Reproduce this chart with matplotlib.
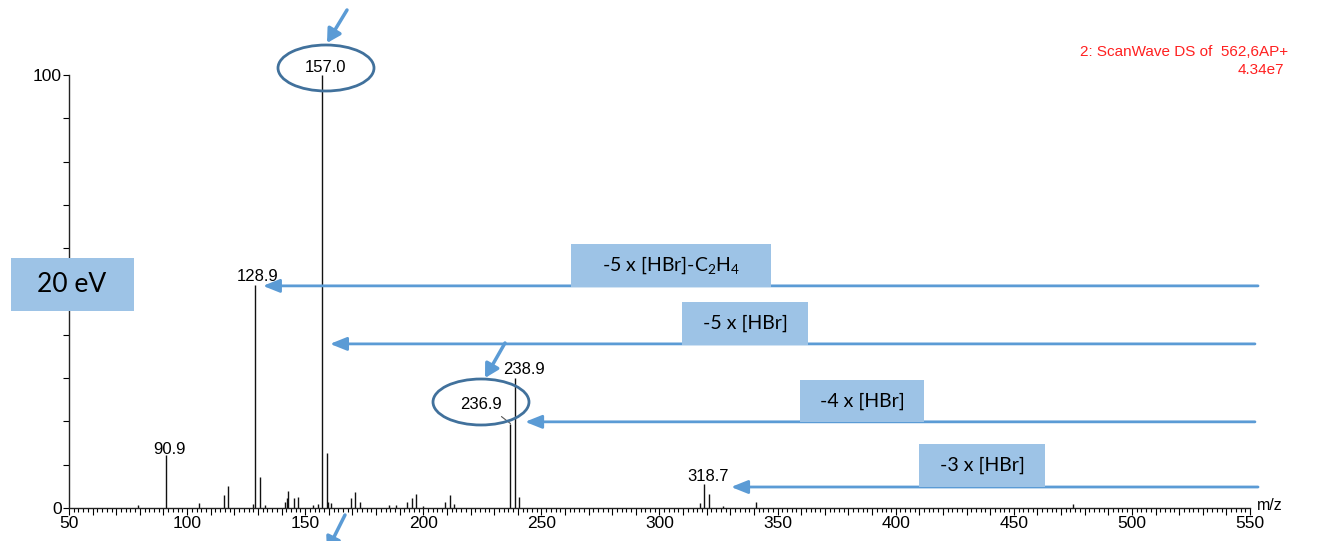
import numpy as np
import matplotlib.pyplot as plt
from matplotlib.patches import Ellipse, Rectangle
from matplotlib.ticker import MultipleLocator, FuncFormatter

plt.rcParams['font.family'] = ['Liberation Sans', 'DejaVu Sans']
plt.rcParams['mathtext.fontset'] = 'custom'
plt.rcParams['mathtext.rm'] = 'Lato'
plt.rcParams['mathtext.it'] = 'Lato'

# spectrum (m/z, relative intensity %)
mz = [79.4, 90.9, 105.1, 115.5, 117.4, 127.7, 128.9, 130.9, 133.0, 141.5,
      142.2, 142.9, 145.3, 146.9, 153.3, 155.4, 157.0, 159.1, 159.6, 161.0,
      169.4, 170.9, 173.0, 185.6, 188.4, 193.1, 195.2, 197.0, 200.0, 209.3,
      211.1, 213.0, 236.9, 238.9, 240.7, 317.0, 318.7, 320.8, 327.0, 341.0,
      475.0]
intensity = [0.8, 12.2, 1.2, 3.0, 5.0, 1.0, 51.5, 7.2, 0.8, 1.5,
             2.3, 4.0, 2.3, 2.5, 0.7, 1.0, 100.0, 12.7, 1.5, 1.2,
             2.3, 3.8, 1.5, 0.7, 0.7, 1.5, 2.3, 3.3, 0.5, 1.5,
             3.0, 1.0, 19.5, 30.0, 2.5, 1.2, 5.5, 3.2, 0.5, 1.3,
             0.9]

labelled = [90.9, 128.9, 157.0, 236.9, 238.9, 318.7]

# losses: text, arrow tip m/z, level (%)
loss_text = ['-5 x [HBr]-C$_2$H$_4$', '-5 x [HBr]', '-4 x [HBr]', '-3 x [HBr]']
loss_tip = [132.1, 160.5, 243.1, 330.3]
loss_level = [51.3, 37.9, 19.9, 4.85]

W, H = 1322, 541
fig = plt.figure(figsize=(W / 100, H / 100), dpi=100)
ax = fig.add_axes([69 / W, 1 - 508 / H, (1250 - 69) / W, (508 - 75) / H])


def fx(px):
    return px / W


def fy(py):
    return 1 - py / H


blue = '#5B9BD5'
boxc = '#9DC3E6'
ring = '#41719C'

ax.vlines(mz, 0, intensity, color='#111111', lw=1)
ax.set_xlim(50, 550)
ax.set_ylim(0, 100)
for s in ['top', 'right']:
    ax.spines[s].set_visible(False)
for s in ['left', 'bottom']:
    ax.spines[s].set_linewidth(1)
    ax.spines[s].set_color('#222222')

ax.xaxis.set_major_locator(MultipleLocator(10))
ax.xaxis.set_minor_locator(MultipleLocator(2))
ax.xaxis.set_major_formatter(FuncFormatter(lambda v, p: f'{v:.0f}' if v % 50 == 0 else ''))
ax.yaxis.set_major_locator(MultipleLocator(10))
ax.yaxis.set_major_formatter(FuncFormatter(lambda v, p: f'{v:.0f}' if v in (0, 100) else ''))
ax.tick_params(axis='x', which='major', length=5, width=0.8, pad=1, labelsize=12.5)
ax.tick_params(axis='x', which='minor', length=3, width=0.8)
ax.tick_params(axis='y', which='major', length=4, width=0.8, pad=1, labelsize=12.5)
fig.text(fx(1257), fy(505), 'm/z', fontsize=11.5, ha='left', va='center')

# peak labels
offsets = {90.9: (4, 6), 128.9: (2, 9), 157.0: (4, 7), 236.9: (-29, 19), 238.9: (9, 9), 318.7: (4, 8)}
for m, v in zip(mz, intensity):
    if m in labelled:
        dx, dy = offsets[m]
        ax.annotate(f'{m:.1f}', (m, v), xytext=(dx, dy), textcoords='offset pixels',
                    ha='center', va='center', fontsize=12)
# leader line for 236.9
ax.annotate('', (236.9, 19.5), xytext=(-9, 7), textcoords='offset pixels',
            arrowprops=dict(arrowstyle='-', color='#555555', lw=0.8, shrinkA=0, shrinkB=0))

# ellipses
fig.patches.append(Ellipse((fx(326), fy(68)), 96 / W, 46 / H, transform=fig.transFigure,
                           fill=False, ec=ring, lw=2))
fig.patches.append(Ellipse((fx(481), fy(402)), 96 / W, 46 / H, transform=fig.transFigure,
                           fill=False, ec=ring, lw=2))

# pointer arrows
arrow_kw = dict(arrowstyle='-|>,head_length=0.8,head_width=0.45', color=blue, lw=2.5, shrinkA=0, shrinkB=0)
for (x0, y0), (x1, y1) in [((347, 10), (327, 43)), ((505, 343), (485, 378)), ((345, 515), (327, 551))]:
    fig.add_artist(plt.Annotation('', (fx(x1), fy(y1)), xytext=(fx(x0), fy(y0)),
                                  xycoords='figure fraction', textcoords='figure fraction',
                                  arrowprops=arrow_kw))

# loss arrows and boxes
tails = [553.4, 552.1, 552.1, 553.4]
boxes = [(571, 244, 200, 43), (682, 302, 126, 43), (800, 380, 124, 42), (919, 444, 126, 43)]
for t, tip, lev, tail, (bx, by, bw, bh) in zip(loss_text, loss_tip, loss_level, tails, boxes):
    ax.annotate('', (tip, lev), xytext=(tail, lev), annotation_clip=False,
                arrowprops=dict(arrowstyle='-|>,head_length=1.0,head_width=0.4', color=blue, lw=2,
                                shrinkA=0, shrinkB=0))
    fig.patches.append(Rectangle((fx(bx), fy(by + bh)), bw / W, bh / H, transform=fig.transFigure,
                                 fc=boxc, ec='none', zorder=3))
    fig.text(fx(bx + bw / 2), fy(by + bh / 2), t, ha='center', va='center', fontsize=14,
             family=['Lato', 'DejaVu Sans'], zorder=4)

# energy box
fig.patches.append(Rectangle((fx(11), fy(311)), 123 / W, 53 / H, transform=fig.transFigure,
                             fc=boxc, ec='none', zorder=3))
fig.text(fx(72), fy(285), '20 eV', ha='center', va='center', fontsize=19,
         family=['Lato', 'DejaVu Sans'], zorder=4)

# header
fig.text(fx(1080), fy(52), '2: ScanWave DS of  562,6AP+', color='#FF2020', fontsize=11,
         ha='left', va='center')
fig.text(fx(1238), fy(70), '4.34e7', color='#FF2020', fontsize=11, ha='left', va='center')

fig.savefig('out.png', dpi=100)
